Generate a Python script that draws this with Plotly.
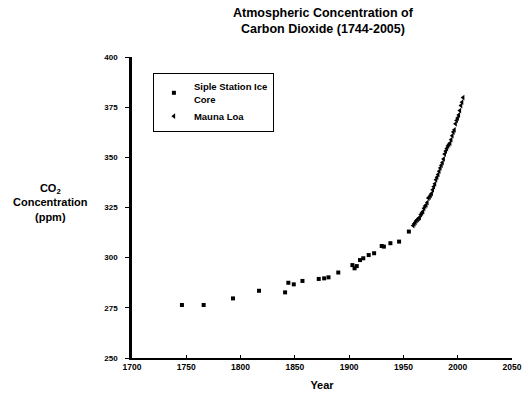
import plotly.graph_objects as go

# Siple Station ice core (year, ppm)
siple_years = [1746, 1766, 1793, 1817, 1841, 1844, 1849, 1857, 1872, 1877, 1881, 1890,
               1903, 1905, 1907, 1910, 1913, 1918, 1923, 1930, 1932, 1938, 1946, 1955]
siple_ppm = [276.4, 276.4, 279.7, 283.5, 282.7, 287.5, 286.7, 288.4, 289.4, 289.7, 290.2, 292.6,
             296.3, 294.7, 295.8, 298.8, 299.7, 301.3, 302.2, 305.8, 305.5, 307.2, 308.0, 313.0]

# Mauna Loa (year, ppm)
mauna_years = list(range(1959, 2006))
mauna_ppm = [316.0, 316.9, 317.6, 318.5, 319.0, 319.6, 320.0, 321.4, 322.2, 323.0,
             324.6, 325.7, 326.3, 327.5, 329.7, 330.2, 331.1, 332.0, 333.8, 335.4,
             336.8, 338.8, 340.1, 341.5, 343.1, 344.7, 346.1, 347.4, 349.2, 351.6,
             353.1, 354.4, 355.6, 356.5, 357.1, 358.8, 360.8, 362.6, 363.7, 366.7,
             368.4, 369.6, 371.1, 373.3, 375.8, 377.5, 379.8]

x_ticks = [1700, 1750, 1800, 1850, 1900, 1950, 2000, 2050]
y_ticks = [250, 275, 300, 325, 350, 375, 400]

FONT = "Liberation Sans"

fig = go.Figure()
fig.add_trace(go.Scatter(
    x=siple_years, y=siple_ppm, mode="markers", name="Siple Station Ice<br>Core",
    marker=dict(symbol="square", size=4, color="black")))
fig.add_trace(go.Scatter(
    x=mauna_years, y=mauna_ppm, mode="markers", name="Mauna Loa",
    marker=dict(symbol="triangle-left", size=5, color="black")))

fig.update_layout(
    width=523, height=404,
    margin=dict(l=132, r=11, t=57, b=46, autoexpand=False),
    paper_bgcolor="white", plot_bgcolor="white",
    font=dict(family=FONT, size=8, color="black", weight="bold"),
    showlegend=True,
    legend=dict(x=0.055, y=0.947, xanchor="left", yanchor="top",
                bordercolor="black", borderwidth=1, bgcolor="white",
                font=dict(family=FONT, size=9.5, color="black", weight="bold"),
                itemwidth=30, tracegroupgap=2),
    xaxis=dict(range=[1700, 2050], tickvals=x_ticks, ticktext=[str(v) for v in x_ticks],
               showgrid=False, zeroline=False, showline=True, linecolor="black", linewidth=1.5,
               ticks="inside", ticklen=3, tickcolor="black",
               tickfont=dict(family=FONT, size=8.5, color="black", weight="bold"),
               title=dict(text="Year", standoff=10,
                          font=dict(family=FONT, size=11, color="black", weight="bold"))),
    yaxis=dict(range=[250, 400], tickvals=y_ticks, ticktext=[str(v) for v in y_ticks],
               showgrid=False, zeroline=False, showline=True, linecolor="black", linewidth=2.5,
               ticks="outside", ticklen=4, tickcolor="black", ticklabelstandoff=6,
               tickfont=dict(family=FONT, size=8, color="black", weight="bold")),
)

# Chart title
fig.add_annotation(
    text="Atmospheric Concentration of<br>Carbon Dioxide (1744-2005)",
    xref="paper", yref="paper", x=0.503, y=1.176, xanchor="center", yanchor="top",
    showarrow=False, align="center",
    font=dict(family=FONT, size=12.5, color="black", weight="bold"))

# Y-axis title (horizontal)
fig.add_annotation(
    text="CO<sub>2</sub><br>Concentration<br>(ppm)",
    xref="paper", yref="paper", x=-0.215, y=0.515, xanchor="center", yanchor="middle",
    showarrow=False, align="center",
    font=dict(family=FONT, size=11, color="black", weight="bold"))

fig.write_html("out.html", config={"displayModeBar": False},
               post_script="document.body.style.margin='0px';")
